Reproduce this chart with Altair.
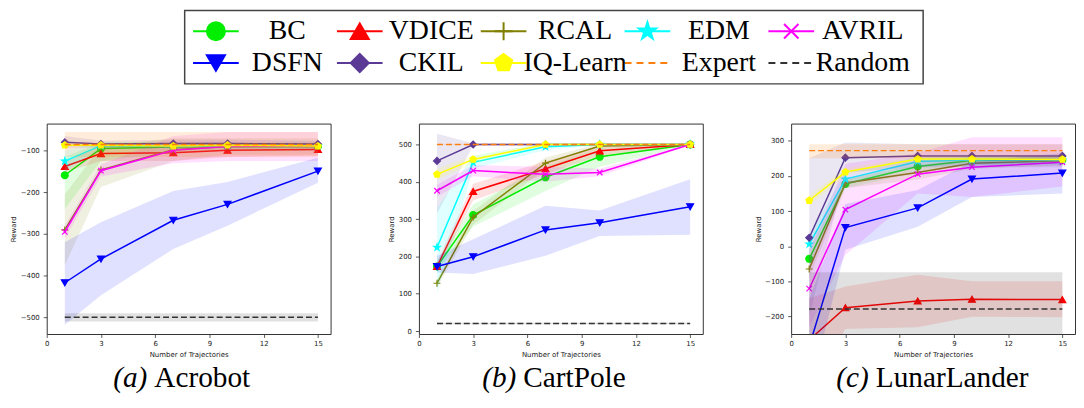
import altair as alt
import pandas as pd

X = [1, 3, 7, 10, 15]
SERIES = ["BC", "VDICE", "RCAL", "EDM", "AVRIL", "DSFN", "CKIL", "IQ-Learn"]
COLORS = {"BC": "#00ee00", "VDICE": "#ff0000", "RCAL": "#808000", "EDM": "#00ffff",
          "AVRIL": "#ff00ff", "DSFN": "#0000ff", "CKIL": "#5b3a96", "IQ-Learn": "#ffff00",
          "Expert": "#ff7f0e", "Random": "#333333"}

STAR = "M0,-1L0.2245,-0.309L0.951,-0.309L0.363,0.118L0.588,0.809L0,0.382L-0.588,0.809L-0.363,0.118L-0.951,-0.309L-0.2245,-0.309Z"
PENT = "M0,-1L0.951,-0.309L0.588,0.809L-0.588,0.809L-0.951,-0.309Z"
PLUS = "M-1,0L1,0M0,-1L0,1"
XMARK = "M-0.8,-0.8L0.8,0.8M-0.8,0.8L0.8,-0.8"
SHAPES = {"BC": "circle", "VDICE": "triangle-up", "RCAL": PLUS, "EDM": STAR,
          "AVRIL": XMARK, "DSFN": "triangle-down", "CKIL": "diamond", "IQ-Learn": PENT}

# ---------------- Acrobot ----------------
acro_mean = {"BC": [-159, -95, -91, -90, -90], "VDICE": [-138, -107, -105, -99, -97],
             "RCAL": [-290, -146, -98, -90, -90], "EDM": [-125, -88, -90, -88, -88],
             "AVRIL": [-295, -148, -99, -90, -89], "DSFN": [-417, -360, -267, -229, -149],
             "CKIL": [-80, -84, -83, -83, -84], "IQ-Learn": [-87, -87, -89, -87, -89]}
acro_lo = {"BC": [-240, -125, -105, -100, -100], "VDICE": [-152, -125, -125, -115, -112],
           "RCAL": [-375, -187, -125, -110, -110], "EDM": [-150, -95, -95, -95, -95],
           "AVRIL": [-310, -162, -130, -125, -125], "DSFN": [-518, -447, -336, -280, -177],
           "CKIL": [-95, -92, -92, -92, -92], "IQ-Learn": [-90, -90, -92, -90, -92]}
acro_hi = {"BC": [-115, -80, -80, -80, -80], "VDICE": [-124, -90, -85, -83, -82],
           "RCAL": [-205, -90, -70, -70, -70], "EDM": [-100, -80, -85, -82, -82],
           "AVRIL": [-280, -133, -65, -55, -55], "DSFN": [-320, -272, -197, -175, -117],
           "CKIL": [-65, -76, -74, -74, -76], "IQ-Learn": [-84, -84, -86, -84, -86]}
acro_expert = [-85, -115, -55]
acro_random = [-500, -510, -490]

# ---------------- CartPole ----------------
cart_mean = {"BC": [173, 311, 412, 467, 500], "VDICE": [173, 374, 435, 483, 500],
             "RCAL": [128, 305, 450, 496, 500], "EDM": [224, 452, 494, 500, 500],
             "AVRIL": [376, 430, 420, 425, 500], "DSFN": [173, 199, 271, 290, 333],
             "CKIL": [456, 500, 500, 500, 500], "IQ-Learn": [420, 460, 500, 500, 500]}
cart_lo = {"BC": [160, 280, 375, 440, 498], "VDICE": [160, 350, 420, 470, 498],
           "RCAL": [118, 285, 435, 490, 498], "EDM": [102, 435, 485, 497, 498],
           "AVRIL": [360, 415, 400, 415, 498], "DSFN": [157, 153, 202, 255, 258],
           "CKIL": [315, 497, 498, 498, 498], "IQ-Learn": [405, 450, 497, 498, 498]}
cart_hi = {"BC": [186, 340, 440, 490, 502], "VDICE": [186, 395, 455, 495, 502],
           "RCAL": [138, 322, 465, 502, 502], "EDM": [330, 470, 505, 503, 502],
           "AVRIL": [392, 445, 440, 435, 502], "DSFN": [202, 246, 336, 323, 407],
           "CKIL": [529, 503, 502, 502, 502], "IQ-Learn": [435, 470, 503, 502, 502]}
cart_expert = [500, 499, 501]
cart_random = [20, 18, 22]

# ---------------- LunarLander ----------------
lunar_mean = {"BC": [-36, 177, 227, 244, 245], "VDICE": [-267, -175, -156, -151, -152],
              "RCAL": [-65, 180, 210, 236, 243], "EDM": [6, 191, 241, 245, 245],
              "AVRIL": [-121, 104, 205, 225, 239], "DSFN": [-285, 53, 109, 191, 208],
              "CKIL": [24, 252, 257, 257, 257], "IQ-Learn": [130, 211, 248, 248, 247]}
lunar_lo = {"BC": [-60, 165, 210, 232, 235], "VDICE": [-400, -236, -231, -201, -202],
            "RCAL": [-90, 165, 190, 220, 230], "EDM": [-20, 175, 225, 232, 232],
            "AVRIL": [-230, -25, 150, 140, 170], "DSFN": [-420, -10, 55, 140, 150],
            "CKIL": [-200, 210, 225, 225, 225], "IQ-Learn": [115, 200, 240, 240, 240]}
lunar_hi = {"BC": [-10, 190, 245, 255, 255], "VDICE": [-148, -115, -81, -100, -100],
            "RCAL": [-40, 195, 230, 250, 255], "EDM": [35, 210, 255, 258, 258],
            "AVRIL": [-10, 235, 265, 310, 310], "DSFN": [-150, 120, 160, 240, 265],
            "CKIL": [250, 295, 290, 290, 290], "IQ-Learn": [145, 222, 256, 256, 255]}
lunar_expert = [272, 250, 290]
lunar_random = [-179, -285, -74]

X_TICKS = [0, 3, 6, 9, 12, 15]
PW, PH = 286, 212
SERIF = "Liberation Serif"
CAP_SIZE = 29.5


def panel(mean, lo, hi, expert, random, ydom, yticks, letter, name, cap_split):
    xs = alt.Scale(domain=[0, 15.7], nice=False, zero=False)
    ys = alt.Scale(domain=ydom, nice=False, zero=False)
    xax = alt.Axis(values=X_TICKS, title="Number of Trajectories", labelPadding=2,
                   titlePadding=4, labelFlush=False)
    yax = alt.Axis(values=yticks, title="Reward", labelPadding=4, titlePadding=3.5,
                   labelFlush=False)
    xe = alt.X("x:Q", scale=xs, axis=xax)
    layers = []
    for s in SERIES:
        df = pd.DataFrame({"x": X, "y": mean[s], "lo": lo[s], "hi": hi[s]})
        b = alt.Chart(df)
        c = COLORS[s]
        layers.append(b.mark_area(color=c, opacity=0.12, clip=True).encode(
            x=xe, y=alt.Y("lo:Q", scale=ys, axis=yax), y2="hi:Q"))
        layers.append(b.mark_line(color=c, strokeWidth=1.5, clip=True).encode(
            x=xe, y=alt.Y("y:Q", scale=ys, axis=yax)))
        layers.append(b.mark_point(shape=SHAPES[s], fill=c, stroke=c, strokeWidth=1.2,
                                   size=48, opacity=1, clip=True).encode(
            x=xe, y=alt.Y("y:Q", scale=ys, axis=yax)))
    for key, vals in (("Expert", expert), ("Random", random)):
        df = pd.DataFrame({"x": [X[0], X[-1]], "y": [vals[0]] * 2,
                           "lo": [vals[1]] * 2, "hi": [vals[2]] * 2})
        b = alt.Chart(df)
        c = COLORS[key]
        layers.append(b.mark_area(color=c, opacity=0.15, clip=True).encode(
            x=xe, y=alt.Y("lo:Q", scale=ys, axis=yax), y2="hi:Q"))
        layers.append(b.mark_line(color=c, strokeWidth=1.5, strokeDash=[6, 3], clip=True).encode(
            x=xe, y=alt.Y("y:Q", scale=ys, axis=yax)))
    cap = alt.Chart(pd.DataFrame({"l": [letter], "n": [name]}))
    layers.append(cap.mark_text(font=SERIF, fontSize=CAP_SIZE, fontStyle="italic",
                                align="right", baseline="middle", color="black").encode(
        x=alt.value(cap_split - 3), y=alt.value(PH + 44), text="l:N"))
    layers.append(cap.mark_text(font=SERIF, fontSize=CAP_SIZE,
                                align="left", baseline="middle", color="black").encode(
        x=alt.value(cap_split + 4), y=alt.value(PH + 44), text="n:N"))
    return alt.layer(*layers).properties(width=PW, height=PH)


pa = panel(acro_mean, acro_lo, acro_hi, acro_expert, acro_random, [-540, -35],
           [-500, -400, -300, -200, -100], "(a)", "Acrobot", 104.4)
pb = panel(cart_mean, cart_lo, cart_hi, cart_expert, cart_random, [-8, 556],
           [0, 100, 200, 300, 400, 500], "(b)", "CartPole", 101.1)
pc = panel(lunar_mean, lunar_lo, lunar_hi, lunar_expert, lunar_random, [-250, 349],
           [-200, -100, 0, 100, 200, 300], "(c)", "LunarLander", 81.3)

panels = alt.hconcat(pa, pb, pc, spacing=89, bounds="flush")

# ---------------- legend ----------------
LEG_LABELS = SERIES + ["Expert", "Random"]
LEG_COL = [0, 1, 2, 3, 4, 0, 1, 2, 3, 4]
LEG_ROW = [0, 0, 0, 0, 0, 1, 1, 1, 1, 1]
LEG_DASH = ["solid"] * 8 + ["dashed"] * 2
LH = 74
leg_df = pd.DataFrame({"label": LEG_LABELS, "col": LEG_COL, "row": LEG_ROW, "dash": LEG_DASH})
lx = alt.X("col:O", scale=alt.Scale(type="point", padding=0.567), axis=None)
ly = alt.Y("row:O", scale=alt.Scale(type="point", padding=0.656), axis=None)
cscale = alt.Scale(domain=LEG_LABELS, range=[COLORS[k] for k in LEG_LABELS])
lb = alt.Chart(leg_df)
leg_line = lb.mark_point(shape="M-1,0L1,0", size=2116, strokeWidth=2, filled=False,
                         opacity=1, xOffset=-50.7).encode(
    x=lx, y=ly, stroke=alt.Stroke("label:N", scale=cscale, legend=None),
    strokeDash=alt.StrokeDash("dash:N", scale=alt.Scale(domain=["solid", "dashed"],
                                                        range=[[1, 0], [7, 5]]), legend=None))
leg_mark = lb.mark_point(filled=True, size=330, strokeWidth=2, opacity=1,
                         xOffset=-50.7).encode(
    x=lx, y=ly,
    fill=alt.Fill("label:N", scale=cscale, legend=None),
    stroke=alt.Stroke("label:N", scale=cscale, legend=None),
    shape=alt.Shape("label:N", scale=alt.Scale(domain=SERIES, range=[SHAPES[k] for k in SERIES]),
                    legend=None)).transform_filter(alt.FieldOneOfPredicate(field="label", oneOf=SERIES))
leg_text = lb.mark_text(font=SERIF, fontSize=28, dx=21.3, align="center",
                        baseline="middle", color="black").encode(x=lx, y=ly, text="label:N")
legend = alt.layer(leg_line, leg_mark, leg_text).properties(
    width=744, height=LH, view=alt.ViewBackground(stroke="#444444", strokeWidth=1.5))

spacer = alt.Chart(pd.DataFrame({"v": [0]})).mark_point(opacity=0).encode(
    x=alt.X("v:Q", axis=None), y=alt.Y("v:Q", axis=None)
).properties(width=139, height=LH, view=alt.ViewBackground(strokeOpacity=0))

top_row = alt.hconcat(spacer, legend, spacing=0, bounds="flush")

chart = alt.vconcat(top_row, panels, spacing=38).properties(
    padding={"left": 1, "top": 0, "right": 0, "bottom": 0}
).configure_axis(
    labelFont="DejaVu Sans", labelFontSize=7, titleFont="DejaVu Sans", titleFontSize=7,
    titleFontWeight="normal", labelColor="#222222", titleColor="#222222", grid=False,
    domain=False, tickColor="#333333", tickSize=3.5, tickWidth=0.8
).configure_view(stroke="#333333", strokeWidth=1).configure_text(font=SERIF)

chart.save("out.html", embed_options={"renderer": "svg", "actions": False})
